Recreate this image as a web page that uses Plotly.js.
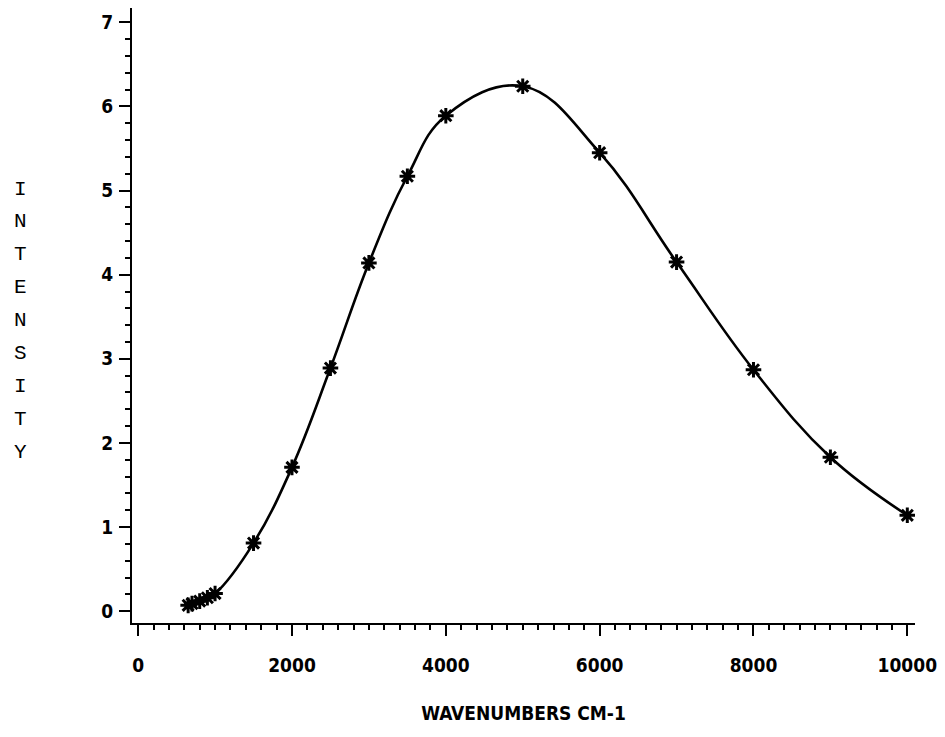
<!DOCTYPE html>
<html>
<head>
<meta charset="utf-8">
<script src="https://cdn.plot.ly/plotly-3.0.1.min.js"></script>
<style>
  html, body { margin: 0; padding: 0; background: #fff; }
  #plot { width: 945px; height: 737px; }
</style>
</head>
<body>
<div id="plot"></div>
<script>
// Emission intensity against wavenumber (cm^-1)
const wavenumbers = [650, 700, 800, 900, 1000, 1500, 2000, 2500, 3000, 3500, 4000, 5000, 6000, 7000, 8000, 9000, 10000];
const intensity   = [0.07, 0.09, 0.12, 0.16, 0.21, 0.81, 1.71, 2.89, 4.14, 5.17, 5.89, 6.24, 5.45, 4.15, 2.87, 1.83, 1.14];

const xTicks = [0, 2000, 4000, 6000, 8000, 10000];
const yTicks = [0, 1, 2, 3, 4, 5, 6, 7];
const yTitle = "INTENSITY";
const xTitle = "WAVENUMBERS CM-1";

const tickFont = { family: "'Liberation Sans Narrow', 'DejaVu Sans Condensed', 'Arial Narrow', sans-serif", size: 19, color: "#000", weight: "bold" };

const trace = {
  x: wavenumbers,
  y: intensity,
  type: "scatter",
  mode: "lines+markers",
  line: { color: "#000", width: 2.6, shape: "spline", smoothing: 1.15 },
  marker: { symbol: "asterisk", size: 13, color: "#000", line: { color: "#000", width: 3 } },
  hoverinfo: "skip",
  showlegend: false
};

// vertical stacked y-axis title, one letter per line
const letters = yTitle.split("");
const annotations = letters.map((ch, i) => ({
  text: ch,
  xref: "paper", yref: "paper",
  x: -132 / 783 + 20 / 783,
  y: 1 - ((189 - 8) + i * 32.9) / 615,
  xanchor: "center", yanchor: "middle",
  showarrow: false,
  font: { family: "'Liberation Mono', 'Courier New', monospace", size: 21, color: "#000" }
}));

const layout = {
  width: 945, height: 737,
  margin: { l: 132, r: 30, t: 8, b: 114 },
  paper_bgcolor: "#fff",
  plot_bgcolor: "#fff",
  showlegend: false,
  xaxis: {
    range: [-80, 10100],
    tickvals: xTicks,
    ticktext: xTicks.map(String),
    ticks: "outside", ticklen: 11, tickwidth: 2, tickcolor: "#000",
    minor: { dtick: 200, tick0: 0, ticks: "outside", ticklen: 5, tickwidth: 2, tickcolor: "#000" },
    showline: true, linecolor: "#000", linewidth: 2,
    showgrid: false, zeroline: false,
    tickfont: tickFont,
    ticklabelstandoff: 13,
    title: { text: xTitle, font: tickFont, standoff: 32 }
  },
  yaxis: {
    range: [-0.14, 7.17],
    tickvals: yTicks,
    ticktext: yTicks.map(String),
    ticks: "outside", ticklen: 11, tickwidth: 2, tickcolor: "#000",
    minor: { dtick: 0.2, tick0: 0, ticks: "outside", ticklen: 5, tickwidth: 2, tickcolor: "#000" },
    showline: true, linecolor: "#000", linewidth: 2,
    showgrid: false, zeroline: false,
    tickfont: tickFont,
    ticklabelstandoff: 2
  },
  annotations: annotations
};

Plotly.newPlot("plot", [trace], layout, { staticPlot: true, displayModeBar: false });
</script>
</body>
</html>
